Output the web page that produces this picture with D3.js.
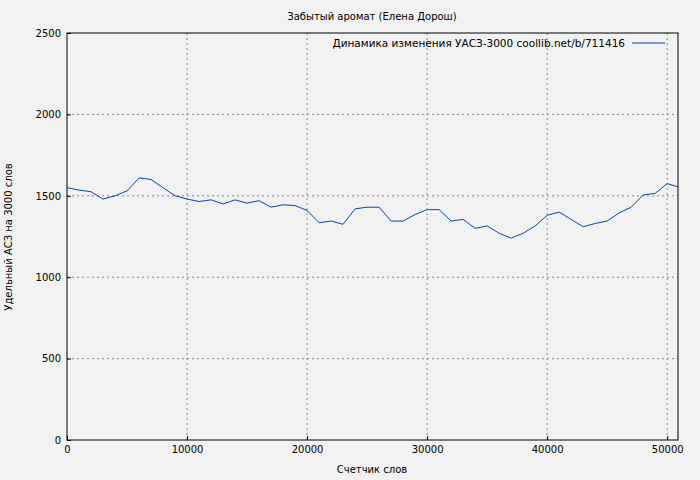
<!DOCTYPE html><html><head><meta charset="utf-8"><script src="https://cdn.jsdelivr.net/npm/d3@7"></script>
<style>body{margin:0;background:#f2f2f2}svg{font-family:"DejaVu Sans";}</style></head><body><svg id="c" width="700" height="480"></svg><script>
const xs=[0,1000,2000,3000,4000,5000,6000,7000,8000,9000,10000,11000,12000,13000,14000,15000,16000,17000,18000,19000,20000,21000,22000,23000,24000,25000,26000,27000,28000,29000,30000,31000,32000,33000,34000,35000,36000,37000,38000,39000,40000,41000,42000,43000,44000,45000,46000,47000,48000,49000,50000,50900];
const ys=[1550,1535,1525,1480,1500,1530,1610,1600,1550,1500,1480,1465,1475,1450,1475,1455,1470,1430,1445,1440,1410,1335,1345,1325,1420,1430,1430,1345,1345,1385,1415,1415,1345,1355,1300,1315,1270,1240,1270,1315,1380,1400,1355,1310,1330,1345,1395,1430,1505,1515,1575,1555];
const xTicks=[0,10000,20000,30000,40000,50000];
const yTicks=[0,500,1000,1500,2000,2500];
const svg=d3.select("#c");
svg.append("rect").attr("width",700).attr("height",480).attr("fill","#f2f2f2");
const L=67,R=678,T=33,B=440;
const x=d3.scaleLinear().domain([0,50900]).range([L,R]);
const y=d3.scaleLinear().domain([0,2500]).range([B,T]);
const g=svg.append("g");
xTicks.slice(1).forEach(t=>g.append("line").attr("x1",x(t)).attr("x2",x(t)).attr("y1",T).attr("y2",B).attr("stroke","#888").attr("stroke-dasharray","2,3"));
yTicks.slice(1,-1).forEach(t=>g.append("line").attr("x1",L).attr("x2",R).attr("y1",y(t)).attr("y2",y(t)).attr("stroke","#888").attr("stroke-dasharray","2,3"));
svg.append("path").attr("d",d3.line().x((d,i)=>x(xs[i])).y(d=>y(d))(ys)).attr("fill","none").attr("stroke","#0645b4").attr("stroke-width",1);
svg.append("rect").attr("x",L).attr("y",T).attr("width",R-L).attr("height",B-T).attr("fill","none").attr("stroke","#000");
svg.append("g").attr("transform",`translate(0,${B})`).call(d3.axisBottom(x).tickValues(xTicks).tickFormat(d3.format("d")).tickSize(-4).tickPadding(6)).call(a=>{a.select(".domain").remove();a.selectAll("text").attr("font-size",10).attr("font-family","DejaVu Sans").attr("fill","#000");});
svg.append("g").attr("transform",`translate(${L},0)`).call(d3.axisLeft(y).tickValues(yTicks).tickFormat(d3.format("d")).tickSize(-4).tickPadding(6)).call(a=>{a.select(".domain").remove();a.selectAll("text").attr("font-size",10).attr("font-family","DejaVu Sans").attr("fill","#000");});
svg.append("text").attr("x",372).attr("y",20).attr("text-anchor","middle").attr("font-size",10).text("Забытый аромат (Елена Дорош)");
svg.append("text").attr("x",372).attr("y",473).attr("text-anchor","middle").attr("font-size",10).text("Счетчик слов");
svg.append("text").attr("transform","translate(12,237) rotate(-90)").attr("text-anchor","middle").attr("font-size",10).text("Удельный АСЗ на 3000 слов");
svg.append("text").attr("x",625).attr("y",47).attr("text-anchor","end").attr("font-size",10.5).text("Динамика изменения УАСЗ-3000 coollib.net/b/711416");
svg.append("line").attr("x1",632).attr("x2",665).attr("y1",43).attr("y2",43).attr("stroke","#0645b4");
</script></body></html>
